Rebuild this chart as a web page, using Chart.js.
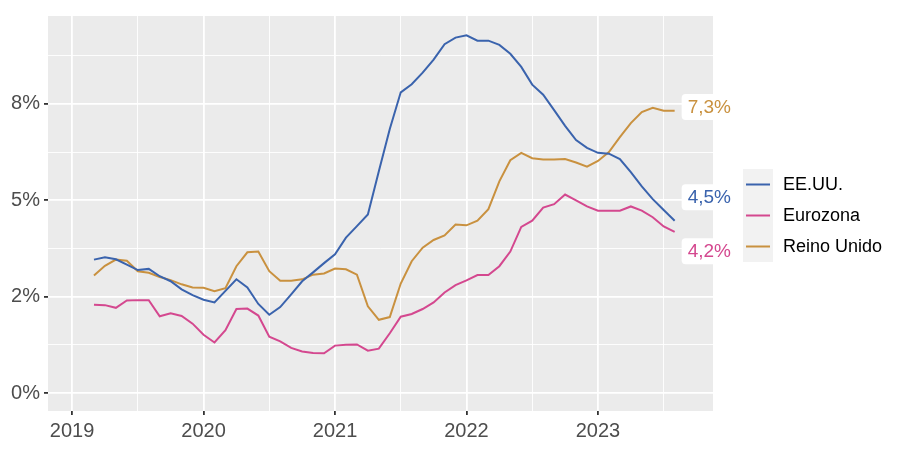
<!DOCTYPE html>
<html>
<head>
<meta charset="utf-8">
<script src="https://cdn.jsdelivr.net/npm/chart.js@4.4.0/dist/chart.umd.min.js"></script>
<style>
  html, body { margin: 0; padding: 0; background: #fff; }
</style>
</head>
<body>
<canvas id="grafico" width="901" height="450"></canvas>
<script>
// meses (primer día de cada mes)
const meses = [
  "2019-03","2019-04","2019-05","2019-06","2019-07","2019-08","2019-09","2019-10","2019-11","2019-12",
  "2020-01","2020-02","2020-03","2020-04","2020-05","2020-06","2020-07","2020-08","2020-09","2020-10","2020-11","2020-12",
  "2021-01","2021-02","2021-03","2021-04","2021-05","2021-06","2021-07","2021-08","2021-09","2021-10","2021-11","2021-12",
  "2022-01","2022-02","2022-03","2022-04","2022-05","2022-06","2022-07","2022-08","2022-09","2022-10","2022-11","2022-12",
  "2023-01","2023-02","2023-03","2023-04","2023-05","2023-06","2023-07","2023-08"
];

const eeuu = [
  3.46, 3.52, 3.47, 3.33, 3.19, 3.22, 3.03, 2.90, 2.69, 2.54,
  2.42, 2.35, 2.65, 2.95, 2.74, 2.31, 2.03, 2.23, 2.56, 2.90, 3.13, 3.37,
  3.60, 4.03, 4.33, 4.63, 5.75, 6.85, 7.80, 8.01, 8.31, 8.65, 9.05, 9.22,
  9.28, 9.14, 9.14, 9.03, 8.80, 8.46, 8.00, 7.74, 7.34, 6.93, 6.56, 6.36,
  6.23, 6.21, 6.07, 5.73, 5.36, 5.03, 4.75, 4.47
];

const eurozona = [
  2.29, 2.28, 2.21, 2.40, 2.41, 2.41, 1.99, 2.07, 2.00, 1.80,
  1.51, 1.31, 1.63, 2.18, 2.19, 2.01, 1.46, 1.34, 1.17, 1.08, 1.04, 1.03,
  1.23, 1.25, 1.26, 1.10, 1.15, 1.55, 1.98, 2.05, 2.18, 2.35, 2.61, 2.80,
  2.92, 3.06, 3.06, 3.29, 3.67, 4.31, 4.47, 4.81, 4.90, 5.15, 5.00, 4.84,
  4.73, 4.73, 4.73, 4.84, 4.73, 4.56, 4.32, 4.18
];

const reinoUnido = [
  3.05, 3.30, 3.46, 3.43, 3.16, 3.12, 3.01, 2.93, 2.82, 2.74,
  2.73, 2.64, 2.72, 3.29, 3.65, 3.67, 3.16, 2.91, 2.91, 2.95, 3.07, 3.10,
  3.23, 3.21, 3.07, 2.25, 1.90, 1.97, 2.84, 3.42, 3.77, 3.97, 4.09, 4.37,
  4.35, 4.47, 4.77, 5.49, 6.04, 6.23, 6.09, 6.06, 6.06, 6.07, 5.98, 5.87,
  6.02, 6.25, 6.64, 7.00, 7.29, 7.40, 7.32, 7.32
];

const nombres = ["EE.UU.", "Eurozona", "Reino Unido"];
const colores = ["#3a63ad", "#d4488f", "#c9913f"];

const ticksX = [2019, 2020, 2021, 2022, 2023];
const ticksY = [0, 2.5, 5, 7.5];
const etiquetasY = ["0%", "2%", "5%", "8%"];

const fuente = "'Liberation Sans', Arial, sans-serif";

function aAnio(m) {
  const [a, mm] = m.split("-").map(Number);
  return a + (mm - 1) / 12;
}

const valores = [eeuu, eurozona, reinoUnido];

// fondo gris del panel //
const fondoPanel = {
  id: "fondoPanel",
  beforeDraw(chart) {
    const { ctx, chartArea: a } = chart;
    ctx.save();
    ctx.fillStyle = "#ebebeb";
    ctx.fillRect(a.left, a.top, a.right - a.left, a.bottom - a.top);
    ctx.restore();
  }
};

// etiquetas del ultimo valor //
const desplaz = [0.61, -0.5, 0.1];
const etiquetasFinales = {
  id: "etiquetasFinales",
  afterDatasetsDraw(chart) {
    const { ctx } = chart;
    const sx = chart.scales.x, sy = chart.scales.y;
    ctx.save();
    ctx.font = "19px " + fuente;
    ctx.textBaseline = "middle";
    valores.forEach((serie, i) => {
      const ult = serie[serie.length - 1];
      const texto = ult.toFixed(1).replace(".", ",") + "%";
      const px = sx.getPixelForValue(aAnio(meses[meses.length - 1]));
      const py = sy.getPixelForValue(ult + desplaz[i]);
      const w = ctx.measureText(texto).width;
      const bx = px + 7, bw = w + 12, bh = 26;
      ctx.fillStyle = "#ffffff";
      ctx.beginPath();
      ctx.roundRect(bx, py - bh / 2, bw, bh, 4);
      ctx.fill();
      ctx.fillStyle = colores[i];
      ctx.fillText(texto, bx + 6, py + 1);
    });
    ctx.restore();
  }
};

// leyenda a la derecha //
const leyenda = {
  id: "leyenda",
  afterDraw(chart) {
    const { ctx } = chart;
    const x0 = 743, y0 = 169, alto = 31;
    ctx.save();
    nombres.forEach((n, i) => {
      const y = y0 + i * alto;
      ctx.fillStyle = "#f2f2f2";
      ctx.fillRect(x0, y, 30, alto);
      ctx.strokeStyle = colores[i];
      ctx.lineWidth = 2;
      ctx.beginPath();
      ctx.moveTo(x0 + 3, y + alto / 2);
      ctx.lineTo(x0 + 27, y + alto / 2);
      ctx.stroke();
      ctx.fillStyle = "#000";
      ctx.font = "18px " + fuente;
      ctx.textBaseline = "middle";
      ctx.fillText(n, x0 + 40, y + alto / 2 + 1);
    });
    ctx.restore();
  }
};

new Chart(document.getElementById("grafico"), {
  type: "line",
  data: {
    datasets: valores.map((serie, i) => ({
      label: nombres[i],
      data: serie.map((v, j) => ({ x: aAnio(meses[j]), y: v })),
      borderColor: colores[i],
      borderWidth: 2,
      pointRadius: 0,
      tension: 0,
      fill: false
    }))
  },
  options: {
    responsive: false,
    devicePixelRatio: 1,
    animation: false,
    layout: { padding: { top: 8, right: 188, left: 0, bottom: 0 } },
    plugins: {
      legend: { display: false },
      tooltip: { enabled: false }
    },
    scales: {
      x: {
        type: "linear",
        min: 2018.817,
        max: 2023.875,
        afterBuildTicks: s => { s.ticks = ticksX.flatMap(v => [v, v + 0.5]).map(v => ({ value: v })); },
        afterFit: s => { s.height = 39; },
        ticks: {
          autoSkip: false,
          maxRotation: 0,
          padding: 4,
          color: "#4d4d4d",
          font: { size: 20, family: fuente },
          callback: v => ticksX.includes(v) ? String(v) : ""
        },
        grid: {
          color: "#ffffff",
          lineWidth: c => ticksX.includes(c.tick.value) ? 1.8 : 0.9,
          tickColor: c => ticksX.includes(c.tick.value) ? "#333333" : "rgba(0,0,0,0)",
          tickLength: 4
        },
        border: { display: false }
      },
      y: {
        min: -0.466,
        max: 9.78,
        afterBuildTicks: s => { s.ticks = ticksY.flatMap(v => [v, v + 1.25]).map(v => ({ value: v })); },
        afterFit: s => { s.width = 48; },
        ticks: {
          autoSkip: false,
          padding: 4,
          color: "#4d4d4d",
          font: { size: 20, family: fuente },
          callback: v => { const k = ticksY.indexOf(v); return k >= 0 ? etiquetasY[k] : ""; }
        },
        grid: {
          color: "#ffffff",
          lineWidth: c => ticksY.includes(c.tick.value) ? 1.8 : 0.9,
          tickColor: c => ticksY.includes(c.tick.value) ? "#333333" : "rgba(0,0,0,0)",
          tickLength: 4
        },
        border: { display: false }
      }
    }
  },
  plugins: [fondoPanel, etiquetasFinales, leyenda]
});
</script>
</body>
</html>
